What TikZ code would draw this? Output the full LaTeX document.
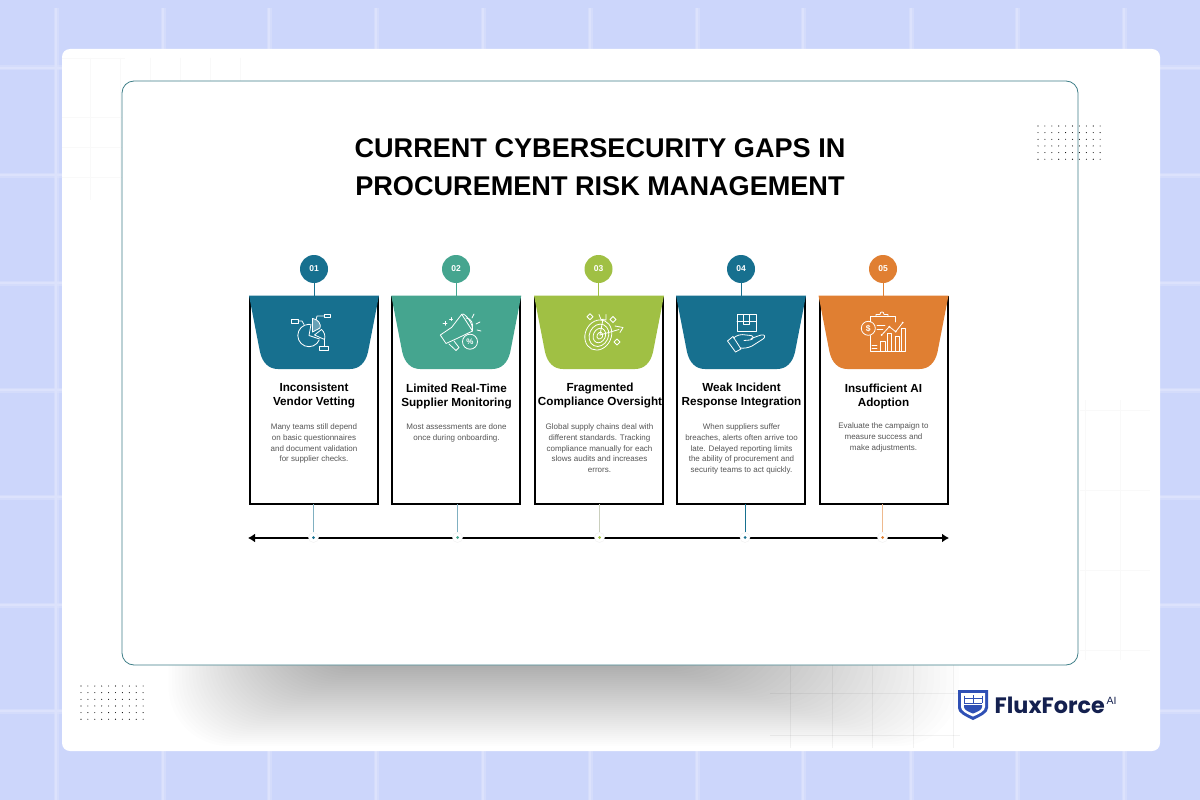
\documentclass[tikz,border=0pt]{standalone}
\usepackage{fontspec}
\setmainfont{Liberation Sans}
\newfontfamily\logofont{Poppins}
\usetikzlibrary{arrows.meta,calc}
\definecolor{bgblue}{HTML}{CCD6FB}
\definecolor{bgline}{HTML}{DCE2FC}
\definecolor{frameteal}{HTML}{3F7F88}
\definecolor{cblue}{HTML}{17708F}
\definecolor{cgreen}{HTML}{45A58F}
\definecolor{clime}{HTML}{A0C044}
\definecolor{corange}{HTML}{E07F32}
\definecolor{bodygray}{HTML}{555555}
\definecolor{logonavy}{HTML}{14204F}
\definecolor{logoblue}{HTML}{2F50B5}
\tikzset{
  x=1pt,y=-1pt,
  cardbox/.style={draw=black,line width=2pt,fill=white,minimum width=128,minimum height=207,inner sep=0pt,outer sep=0pt},
  numdisc/.style={circle,minimum size=28,inner sep=0pt,text=white,font=\bfseries\fontsize{8.5}{10}\selectfont},
  cardtitle/.style={align=center,font=\bfseries\fontsize{11.7}{14.2}\selectfont,text=black,inner sep=0pt,anchor=north},
  cardbody/.style={align=center,font=\fontsize{8}{10.75}\selectfont,text=bodygray,inner sep=0pt,anchor=north},
  axisdot/.style={circle,fill=white,draw=black!6,line width=0.4pt,minimum size=10,inner sep=0pt},
  icon/.style={draw=white,line width=0.8pt,line join=round,line cap=round},
  faintline/.style={draw=black!2.5,line width=0.8pt},
  shadeline/.style={draw=black,opacity=0.05,line width=0.8pt},
}
\newcommand{\headershape}[2]{% left x, colour
  \fill[#2] (#1,295.5) -- (#1+130,295.5) -- (#1+119,352)
    .. controls (#1+116.5,363) and (#1+110,369) .. (#1+101,369)
    -- (#1+29,369) .. controls (#1+20,369) and (#1+13.5,363) .. (#1+11,352) -- cycle;}
\newcommand{\dotgrid}[2]{% origin
  \foreach \i in {0,...,9}{\foreach \j in {0,...,5}{
    \fill[black] (#1+\i*6.9,#2+\j*6.65) circle (0.55);}}}
\begin{document}
\begin{tikzpicture}
\useasboundingbox (0,0) rectangle (1200,800);
% page background
\fill[bgblue] (0,0) rectangle (1200,800);
\foreach \gx in {56,163,269,376,483,590,697,803,911,1017,1124}{
  \draw[bgline,opacity=0.5,line width=5pt] (\gx,8) -- (\gx,800);
  \draw[bgline,line width=2.5pt] (\gx,8) -- (\gx,800);}
\foreach \gy in {68,175,283,390,497,605,711}{
  \draw[bgline,opacity=0.5,line width=5pt] (0,\gy) -- (1200,\gy);
  \draw[bgline,line width=2.5pt] (0,\gy) -- (1200,\gy);}
% white sheet
\fill[white,rounded corners=8] (62,49) rectangle (1160,751);
% faint sheet grid
\foreach \gx in {90,120,150,180,210,240}{\draw[faintline] (\gx,58) -- (\gx,200);}
\foreach \gy in {58,117,147,177}{\draw[faintline] (62,\gy) -- (125,\gy);}
\foreach \gx in {1085,1120}{\draw[faintline] (\gx,400) -- (\gx,660);}
\foreach \gy in {410,490,570,650}{\draw[faintline] (1080,\gy) -- (1150,\gy);}
% soft shadow under the frame
\begin{scope}
  \clip (62,660) rectangle (1160,751);
  \foreach \k in {1,...,40}{
    \fill[black,opacity=0.0085,rounded corners=60] ({165+3.4*\k},560) rectangle ({965-6.2*\k},{748-2*\k});
  }
  \foreach \gx in {790,832,872,913,953}{\draw[shadeline] (\gx,665) -- (\gx,748);}
  \foreach \gy in {693,735}{\draw[shadeline] (770,\gy) -- (960,\gy);}
\end{scope}
\node[fill=white,rounded corners=12,minimum width=956,minimum height=584,inner sep=0pt,draw=frameteal,line width=0.8pt] (frame) at (600,373) {};
\dotgrid{1038}{126}
\dotgrid{81}{686}
% title
\node[align=center,font=\bfseries\fontsize{27.1}{38}\selectfont,inner sep=0pt,text=black] (title) at (600,167.5) {CURRENT CYBERSECURITY GAPS IN\\PROCUREMENT RISK MANAGEMENT};
% cards
\node[cardbox] (card1) at (314,400.5) {};
\node[cardbox] (card2) at (456.25,400.5) {};
\node[cardbox] (card3) at (599,400.5) {};
\node[cardbox] (card4) at (741,400.5) {};
\node[cardbox] (card5) at (883.5,400.5) {};
\headershape{249}{cblue}
\headershape{391.25}{cgreen}
\headershape{534}{clime}
\headershape{676}{cblue}
\headershape{818.5}{corange}
% number discs
\node[numdisc,fill=cblue] (n1) at (314,269) {01};
\node[numdisc,fill=cgreen] (n2) at (456,269) {02};
\node[numdisc,fill=clime] (n3) at (598.5,269) {03};
\node[numdisc,fill=cblue] (n4) at (741,269) {04};
\node[numdisc,fill=corange] (n5) at (883,269) {05};
\draw[cblue,line width=0.9pt] (n1) -- (n1 |- card1.north);
\draw[cgreen,line width=0.9pt] (n2) -- (n2 |- card2.north);
\draw[clime,line width=0.9pt] (n3) -- (n3 |- card3.north);
\draw[cblue,line width=0.9pt] (n4) -- (n4 |- card4.north);
\draw[corange,line width=0.9pt] (n5) -- (n5 |- card5.north);
% titles and body text
\node[cardtitle] (t1) at (314,382.5) {Inconsistent\\Vendor Vetting};
\node[cardtitle] (t2) at (456.5,383.5) {Limited Real-Time\\Supplier Monitoring};
\node[cardtitle] (t3) at (600,382.5) {Fragmented\\Compliance Oversight};
\node[cardtitle] (t4) at (741.5,382.5) {Weak Incident\\Response Integration};
\node[cardtitle] (t5) at (883.5,383.5) {Insufficient AI\\Adoption};
\node[cardbody] (b1) at (314,423.5) {Many teams still depend\\on basic questionnaires\\and document validation\\for supplier checks.};
\node[cardbody] (b2) at (456.5,423.5) {Most assessments are done\\once during onboarding.};
\node[cardbody] (b3) at (599.5,423.5) {Global supply chains deal with\\different standards. Tracking\\compliance manually for each\\slows audits and increases\\errors.};
\node[cardbody] (b4) at (741.5,423.5) {When suppliers suffer\\breaches, alerts often arrive too\\late. Delayed reporting limits\\the ability of procurement and\\security teams to act quickly.};
\node[cardbody] (b5) at (883.5,422.5) {Evaluate the campaign to\\measure success and\\make adjustments.};
% timeline
\coordinate (axL) at (248,538);
\coordinate (axR) at (949,538);
\draw[black,line width=1.6pt,{Latex[length=7pt,width=9pt]}-{Latex[length=7pt,width=9pt]}] (axL) -- (axR);
\node[axisdot] (d1) at (313.5,537.5) {};
\node[axisdot] (d2) at (457.5,537.5) {};
\node[axisdot] (d3) at (599.5,537.5) {};
\node[axisdot] (d4) at (745,537.5) {};
\node[axisdot] (d5) at (882.5,537.5) {};
\draw[cblue!55,line width=1pt] (card1.south -| d1) -- (d1);
\draw[cblue!55,line width=1pt] (card2.south -| d2) -- (d2);
\draw[clime!50!black!30!white,line width=1pt] (card3.south -| d3) -- (d3);
\draw[cblue,line width=1pt] (card4.south -| d4) -- (d4);
\draw[corange!55,line width=1pt] (card5.south -| d5) -- (d5);
\fill[cblue] (d1) circle (1.5);
\fill[cgreen] (d2) circle (1.5);
\fill[clime] (d3) circle (1.5);
\fill[cblue] (d4) circle (1.5);
\fill[corange] (d5) circle (1.5);
% icon 1: pie chart with labels
\begin{scope}[icon]
  \draw (309,335.5) circle (11.2);
  \fill[cblue] (309,335.5) -- (311,322) -- (326,322) -- (326,343) -- cycle;
  \draw (311,324.5) -- (309,335.5) -- (319.5,339);
  \draw[fill=white,fill opacity=0.35] (312.5,318.5) .. controls (318.5,319) and (321.5,325) .. (320,328) -- (312.5,332) -- cycle;
  \draw (314.5,335) -- (321.5,329.5) .. controls (324.5,332) and (325.5,336) .. (324.5,339.5) -- cycle;
  \draw (291.3,319.3) rectangle (298,323.3);
  \draw (324,314) rectangle (330.7,317.7);
  \draw (319.3,346.7) rectangle (328.7,350.7);
  \draw (298,321) -- (302,321) -- (304,324.5);
  \draw (324,316) -- (317,316) -- (316,320);
  \draw (324,346.7) -- (324,340);
\end{scope}
% icon 2: megaphone
\begin{scope}[icon]
  \draw (440.3,335) -- (451.7,327.3) -- (461.7,314.3) -- (472.5,331) -- (458,338) -- (446,343.5) -- cycle;
  \draw (461.7,314.3) .. controls (465,312) and (474,325) .. (472.5,331);
  \draw (466,318) .. controls (471,318) and (474,324) .. (472,329);
  \draw (449,344) -- (456,350.5) -- (459,347.5) -- (454,341);
  \draw (470,341.7) circle (7.5);
  \node[text=white,inner sep=0pt,font=\bfseries\fontsize{8}{8}\selectfont] at (470,341.7) {\%};
  \draw (472,318) -- (474,314);
  \draw (476,324) -- (480,322);
  \draw (477,330) -- (481,331);
  \draw (443,323.3) -- (447,323.3) (445,321.3) -- (445,325.3);
  \draw (449.5,319) -- (452.5,319) (451,317.5) -- (451,320.5);
\end{scope}
% icon 3: target
\begin{scope}[icon]
  \draw[rotate around={-25:(598.3,335)}] (598.3,335) ellipse (13 and 15.5);
  \draw[rotate around={-25:(598.3,335)}] (599,335) ellipse (9.5 and 11.5);
  \draw[rotate around={-25:(598.3,335)}] (599.5,335) ellipse (6 and 7.5);
  \draw[rotate around={-25:(598.3,335)}] (600,335) ellipse (2.8 and 3.5);
  \draw (600,335) -- (619,329.5) (615,326) -- (623,327.5) -- (620,332.5);
  \draw (600,335) -- (603,319) (599,314.5) -- (601,319.5) -- (606,320) -- (606,314.5);
  \foreach \sx/\sy in {590/316.7,613/319.5,617/342}{
    \draw (\sx-3,\sy) -- (\sx,\sy-3) -- (\sx+3,\sy) -- (\sx,\sy+3) -- cycle;}
\end{scope}
% icon 4: parcel on a hand
\begin{scope}[icon]
  \draw (737,314.5) rectangle (756,331.5);
  \draw (737,321.5) -- (756,321.5);
  \draw (743.5,314.5) -- (743.5,324.5) -- (749.5,324.5) -- (749.5,314.5);
  \draw (727.5,341) -- (733,336.5) -- (741,349) -- (735.5,352) -- cycle;
  \draw (733.5,338) .. controls (737,335) and (741,334) .. (746,335) -- (751,335.5)
     .. controls (754,336) and (754,339.5) .. (750,340) -- (744,340.5);
  \draw (751,338.5) -- (761,335) .. controls (765,334) and (766,337) .. (763,339)
     -- (752,346) .. controls (748,348) and (744,348.5) .. (740,348);
\end{scope}
% icon 5: clipboard report
\begin{scope}[icon]
  \draw (870,322) -- (870,316.7) -- (895,316.7) -- (895,322);
  \draw (870,335.5) -- (870,351) -- (905,351);
  \draw (876,316.7) -- (876,314.5) -- (880,314.5) .. controls (880,311) and (884,311) .. (884,314.5) -- (888,314.5) -- (888,316.7);
  \draw (868.3,328.3) circle (7);
  \node[text=white,inner sep=0pt,font=\bfseries\fontsize{8.5}{8.5}\selectfont] at (868.3,328.3) {\$};
  \draw (877,325) -- (885,325) (877,329) -- (883,329);
  \draw (872,345) -- (877,345) (872,348) -- (877,348);
  \draw (880,341.7) rectangle (885,351);
  \draw (887.3,333.3) rectangle (891.7,351);
  \draw (895,336.7) rectangle (899,351);
  \draw (901.7,328.3) rectangle (905,351);
  \draw (881.7,335) -- (889.3,326.7) -- (895.7,331.7) -- (902.7,322.7);
  \fill[white] (881.7,335) circle (1) (889.3,326.7) circle (1) (895.7,331.7) circle (1) (902.7,322.7) circle (1);
\end{scope}
% logo
\node[inner sep=0pt,anchor=west,text=logonavy,font=\logofont\bfseries\fontsize{22.3}{24}\selectfont] (logo) at (994.5,705) {FluxForce};
\node[inner sep=0pt,anchor=west,text=logonavy,font=\fontsize{10.5}{10.5}\selectfont] (logoai) at (1106.5,700.5) {AI};
\fill[logoblue] (958,690) -- (988,690) -- (988,708) .. controls (988,713) and (981,716) .. (973,720) .. controls (965,716) and (958,713) .. (958,708) -- cycle;
\fill[white] (961,693) -- (985,693) -- (985,707) .. controls (985,711) and (979,714) .. (973,716.5) .. controls (967,714) and (961,711) .. (961,707) -- cycle;
\fill[logoblue] (964,705) -- (982,705) -- (982,707) .. controls (982,710) and (977,712) .. (973,713.5) .. controls (969,712) and (964,710) .. (964,707) -- cycle;
\draw[logoblue,line width=1pt] (964,695.5) -- (964,703) (982,695.5) -- (982,703) (964,698.5) -- (982,698.5) (964,703) -- (982,703) (973,695) -- (973,703);
\end{tikzpicture}
\end{document}
